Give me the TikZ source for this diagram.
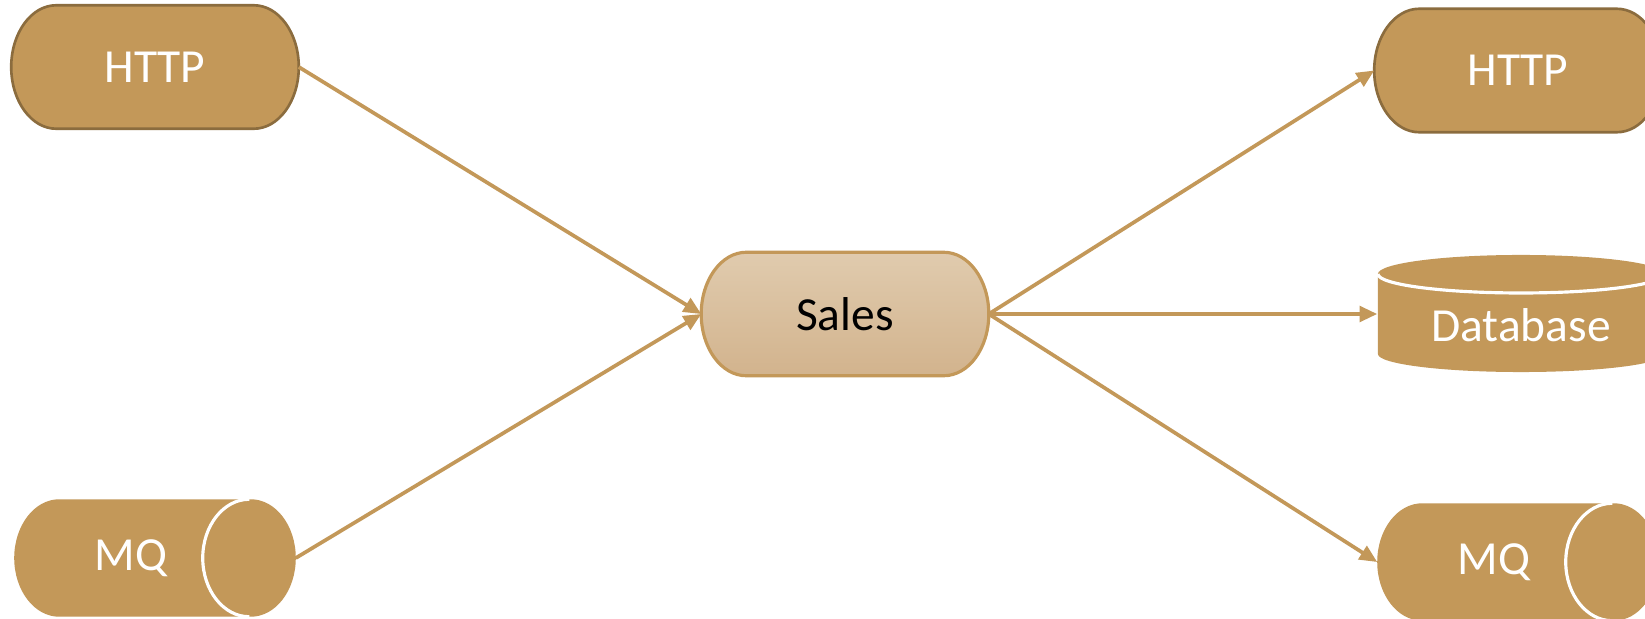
\documentclass[tikz,border=0pt]{standalone}
\usepackage{fontspec}
\setmainfont{Carlito}
\usetikzlibrary{positioning,arrows.meta,calc,backgrounds}
\definecolor{brass}{HTML}{C39859}
\definecolor{brassdark}{HTML}{8B6C3E}
\definecolor{salestop}{HTML}{E0CBAE}
\definecolor{salesbot}{HTML}{D2B38D}
% capsule with half-elliptic ends round the box of a node
\newcommand{\pill}[3][]{%
  \path[#1] let \p1=(#2.north west), \p2=(#2.south east), \n1={(\y1-\y2)/2} in
    (\x1+#3,\y1) -- (\x2-#3,\y1)
    arc[start angle=90,end angle=-90,x radius=#3,y radius=\n1]
    -- (\x1+#3,\y2)
    arc[start angle=270,end angle=90,x radius=#3,y radius=\n1] -- cycle;}
% white rim of the end cap of a queue
\newcommand{\rim}[2]{%
  \draw[white,line width=0.9pt] let \p1=(#1.north east), \p2=(#1.south east), \n1={(\y1-\y2)/2} in
    (\x1-#2,\y1) arc[start angle=90,end angle=270,x radius=#2,y radius=\n1];}

\begin{document}
\begin{tikzpicture}[x=0.01cm,y=0.01cm,>={Triangle[length=5pt,width=4.4pt]},
    shell/.style={rectangle,inner sep=0pt,minimum width=2.86cm,minimum height=1.22cm,
      text=white,font=\fontsize{13.5}{16}\selectfont},
    queue/.style={shell,minimum width=2.80cm,minimum height=1.16cm},
    link/.style={->,brass,line width=1.05pt}]
  \useasboundingbox (0,0) rectangle (1645,-618);
  % --- callers ---
  \node[shell] (httpin) at (155,-67) {HTTP};
  \node[queue] (mqin) at (155,-558) {MQ\kern0.48cm};
  % --- the service ---
  \node[shell,text=black] (sales) at (845,-314) {Sales};
  % --- what it talks to ---
  \node[shell] (httpout) at (1518,-70.5) {HTTP};
  \node[shell,minimum height=0.8cm] (db) at (1521,-325) {Database};
  \node[queue] (mqout) at (1518,-562) {MQ\kern0.48cm};
  % --- the shapes, behind the texts ---
  \begin{scope}[on background layer]
    \fill[white] (0,0) rectangle (1645,-618);
    \pill[fill=brass,draw=brassdark,line width=0.75pt]{httpin}{0.45cm}
    \pill[fill=brass,draw=brassdark,line width=0.75pt]{httpout}{0.45cm}
    \pill[top color=salestop,bottom color=salesbot,draw=brass,line width=0.9pt]{sales}{0.45cm}
    \pill[fill=brass]{mqin}{0.45cm}
    \pill[fill=brass]{mqout}{0.45cm}
    \rim{mqin}{0.465cm}
    \rim{mqout}{0.465cm}
  \end{scope}
  \begin{scope}[on background layer,shift={(db.center)}]
    \fill[brass] (-1.43cm,0.51cm) -- (-1.43cm,-0.29cm)
      arc[start angle=180,end angle=360,x radius=1.43cm,y radius=0.18cm] -- (1.43cm,0.51cm) -- cycle;
    \fill[brass] (0,0.51cm) ellipse[x radius=1.43cm,y radius=0.19cm];
    \draw[white,line width=0.9pt] (-1.43cm,0.51cm)
      arc[start angle=180,end angle=360,x radius=1.43cm,y radius=0.19cm];
  \end{scope}
  % --- links ---
  \draw[link] (httpin.east) -- (sales.west);
  \draw[link] (mqin.east) -- (sales.west);
  \draw[link] (sales.east) -- (httpout.west);
  \draw[link] (sales.east) -- (sales.east -| db.west);
  \draw[link] (sales.east) -- (mqout.west);
\end{tikzpicture}
\end{document}
